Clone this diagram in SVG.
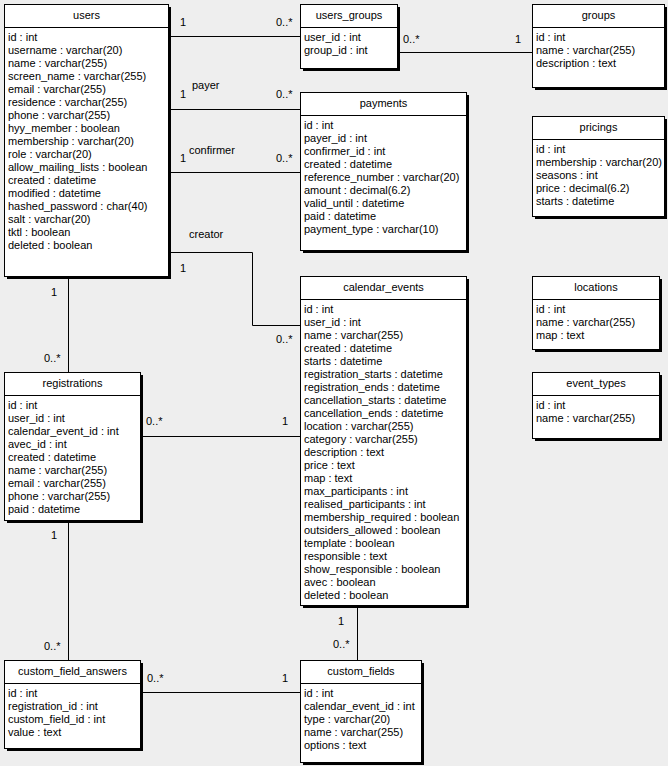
<svg xmlns="http://www.w3.org/2000/svg" width="668" height="766" viewBox="0 0 668 766">
<style>
text{font-family:"Liberation Sans",Arial,sans-serif;font-size:11px;fill:#000}
.t{text-anchor:middle}
.sh{fill:#000}
.bx{fill:#fff;stroke:#000;stroke-width:1}
.hl{stroke:#000;stroke-width:1}
.c{fill:none;stroke:#000;stroke-width:1}
</style>
<rect x="0" y="0" width="668" height="766" fill="#eeeeee"/>
<g id="connectors">
<path class="c" d="M168 36.5H300"/>
<path class="c" d="M397 52.5H532"/>
<path class="c" d="M168 109.5H300"/>
<path class="c" d="M168 172.5H300"/>
<path class="c" d="M168 252.5H252.5V325.5H300"/>
<path class="c" d="M68.5 276V372"/>
<path class="c" d="M140 436.5H300"/>
<path class="c" d="M68.5 520V660"/>
<path class="c" d="M140 692.5H300"/>
<path class="c" d="M357.5 605V660"/>
<text x="180" y="26">1</text><text x="276" y="26">0..*</text>
<text x="403" y="43">0..*</text><text x="515" y="43">1</text>
<text x="180" y="98">1</text><text x="192" y="89">payer</text><text x="276" y="98">0..*</text>
<text x="180" y="162">1</text><text x="189" y="154">confirmer</text><text x="276" y="162">0..*</text>
<text x="189" y="238">creator</text><text x="180" y="272">1</text><text x="276" y="343">0..*</text>
<text x="51" y="296">1</text><text x="44" y="362">0..*</text>
<text x="146" y="425">0..*</text><text x="282" y="425">1</text>
<text x="51" y="539">1</text><text x="44" y="650">0..*</text>
<text x="147" y="682">0..*</text><text x="282" y="682">1</text>
<text x="338" y="625">1</text><text x="333" y="648">0..*</text>
</g>
<g id="users">
<rect class="sh" x="7" y="7" width="164" height="272"/>
<rect class="bx" x="4.5" y="4.5" width="164" height="272"/>
<line class="hl" x1="4.5" y1="27.5" x2="168.5" y2="27.5"/>
<text class="t" x="86.5" y="19">users</text>
<text x="8" y="41">id : int</text>
<text x="8" y="54">username : varchar(20)</text>
<text x="8" y="67">name : varchar(255)</text>
<text x="8" y="80">screen_name : varchar(255)</text>
<text x="8" y="93">email : varchar(255)</text>
<text x="8" y="106">residence : varchar(255)</text>
<text x="8" y="119">phone : varchar(255)</text>
<text x="8" y="132">hyy_member : boolean</text>
<text x="8" y="145">membership : varchar(20)</text>
<text x="8" y="158">role : varchar(20)</text>
<text x="8" y="171">allow_mailing_lists : boolean</text>
<text x="8" y="184">created : datetime</text>
<text x="8" y="197">modified : datetime</text>
<text x="8" y="210">hashed_password : char(40)</text>
<text x="8" y="223">salt : varchar(20)</text>
<text x="8" y="236">tktl : boolean</text>
<text x="8" y="249">deleted : boolean</text>
</g>
<g id="users_groups">
<rect class="sh" x="303" y="7" width="97" height="64"/>
<rect class="bx" x="300.5" y="4.5" width="97" height="64"/>
<line class="hl" x1="300.5" y1="27.5" x2="397.5" y2="27.5"/>
<text class="t" x="349" y="19">users_groups</text>
<text x="304" y="41">user_id : int</text>
<text x="304" y="54">group_id : int</text>
</g>
<g id="groups">
<rect class="sh" x="535" y="7" width="132" height="83"/>
<rect class="bx" x="532.5" y="4.5" width="132" height="83"/>
<line class="hl" x1="532.5" y1="27.5" x2="664.5" y2="27.5"/>
<text class="t" x="598.5" y="19">groups</text>
<text x="536" y="41">id : int</text>
<text x="536" y="54">name : varchar(255)</text>
<text x="536" y="67">description : text</text>
</g>
<g id="payments">
<rect class="sh" x="303" y="95" width="166" height="158"/>
<rect class="bx" x="300.5" y="92.5" width="166" height="158"/>
<line class="hl" x1="300.5" y1="115.5" x2="466.5" y2="115.5"/>
<text class="t" x="383.5" y="107">payments</text>
<text x="304" y="129">id : int</text>
<text x="304" y="142">payer_id : int</text>
<text x="304" y="155">confirmer_id : int</text>
<text x="304" y="168">created : datetime</text>
<text x="304" y="181">reference_number : varchar(20)</text>
<text x="304" y="194">amount : decimal(6.2)</text>
<text x="304" y="207">valid_until : datetime</text>
<text x="304" y="220">paid : datetime</text>
<text x="304" y="233">payment_type : varchar(10)</text>
</g>
<g id="pricings">
<rect class="sh" x="535" y="119" width="132" height="100"/>
<rect class="bx" x="532.5" y="116.5" width="132" height="100"/>
<line class="hl" x1="532.5" y1="139.5" x2="664.5" y2="139.5"/>
<text class="t" x="598.5" y="131">pricings</text>
<text x="536" y="153">id : int</text>
<text x="536" y="166">membership : varchar(20)</text>
<text x="536" y="179">seasons : int</text>
<text x="536" y="192">price : decimal(6.2)</text>
<text x="536" y="205">starts : datetime</text>
</g>
<g id="calendar_events">
<rect class="sh" x="303" y="279" width="166" height="329"/>
<rect class="bx" x="300.5" y="276.5" width="166" height="329"/>
<line class="hl" x1="300.5" y1="299.5" x2="466.5" y2="299.5"/>
<text class="t" x="383.5" y="291">calendar_events</text>
<text x="304" y="313">id : int</text>
<text x="304" y="326">user_id : int</text>
<text x="304" y="339">name : varchar(255)</text>
<text x="304" y="352">created : datetime</text>
<text x="304" y="365">starts : datetime</text>
<text x="304" y="378">registration_starts : datetime</text>
<text x="304" y="391">registration_ends : datetime</text>
<text x="304" y="404">cancellation_starts : datetime</text>
<text x="304" y="417">cancellation_ends : datetime</text>
<text x="304" y="430">location : varchar(255)</text>
<text x="304" y="443">category : varchar(255)</text>
<text x="304" y="456">description : text</text>
<text x="304" y="469">price : text</text>
<text x="304" y="482">map : text</text>
<text x="304" y="495">max_participants : int</text>
<text x="304" y="508">realised_participants : int</text>
<text x="304" y="521">membership_required : boolean</text>
<text x="304" y="534">outsiders_allowed : boolean</text>
<text x="304" y="547">template : boolean</text>
<text x="304" y="560">responsible : text</text>
<text x="304" y="573">show_responsible : boolean</text>
<text x="304" y="586">avec : boolean</text>
<text x="304" y="599">deleted : boolean</text>
</g>
<g id="locations">
<rect class="sh" x="535" y="279" width="127" height="73"/>
<rect class="bx" x="532.5" y="276.5" width="127" height="73"/>
<line class="hl" x1="532.5" y1="299.5" x2="659.5" y2="299.5"/>
<text class="t" x="596" y="291">locations</text>
<text x="536" y="313">id : int</text>
<text x="536" y="326">name : varchar(255)</text>
<text x="536" y="339">map : text</text>
</g>
<g id="event_types">
<rect class="sh" x="535" y="375" width="127" height="66"/>
<rect class="bx" x="532.5" y="372.5" width="127" height="66"/>
<line class="hl" x1="532.5" y1="395.5" x2="659.5" y2="395.5"/>
<text class="t" x="596" y="387">event_types</text>
<text x="536" y="409">id : int</text>
<text x="536" y="422">name : varchar(255)</text>
</g>
<g id="registrations">
<rect class="sh" x="7" y="375" width="136" height="148"/>
<rect class="bx" x="4.5" y="372.5" width="136" height="148"/>
<line class="hl" x1="4.5" y1="395.5" x2="140.5" y2="395.5"/>
<text class="t" x="72.5" y="387">registrations</text>
<text x="8" y="409">id : int</text>
<text x="8" y="422">user_id : int</text>
<text x="8" y="435">calendar_event_id : int</text>
<text x="8" y="448">avec_id : int</text>
<text x="8" y="461">created : datetime</text>
<text x="8" y="474">name : varchar(255)</text>
<text x="8" y="487">email : varchar(255)</text>
<text x="8" y="500">phone : varchar(255)</text>
<text x="8" y="513">paid : datetime</text>
</g>
<g id="custom_field_answers">
<rect class="sh" x="7" y="663" width="136" height="88"/>
<rect class="bx" x="4.5" y="660.5" width="136" height="88"/>
<line class="hl" x1="4.5" y1="683.5" x2="140.5" y2="683.5"/>
<text class="t" x="72.5" y="675">custom_field_answers</text>
<text x="8" y="697">id : int</text>
<text x="8" y="710">registration_id : int</text>
<text x="8" y="723">custom_field_id : int</text>
<text x="8" y="736">value : text</text>
</g>
<g id="custom_fields">
<rect class="sh" x="303" y="663" width="121" height="102"/>
<rect class="bx" x="300.5" y="660.5" width="121" height="102"/>
<line class="hl" x1="300.5" y1="683.5" x2="421.5" y2="683.5"/>
<text class="t" x="361" y="675">custom_fields</text>
<text x="304" y="697">id : int</text>
<text x="304" y="710">calendar_event_id : int</text>
<text x="304" y="723">type : varchar(20)</text>
<text x="304" y="736">name : varchar(255)</text>
<text x="304" y="749">options : text</text>
</g>
</svg>
